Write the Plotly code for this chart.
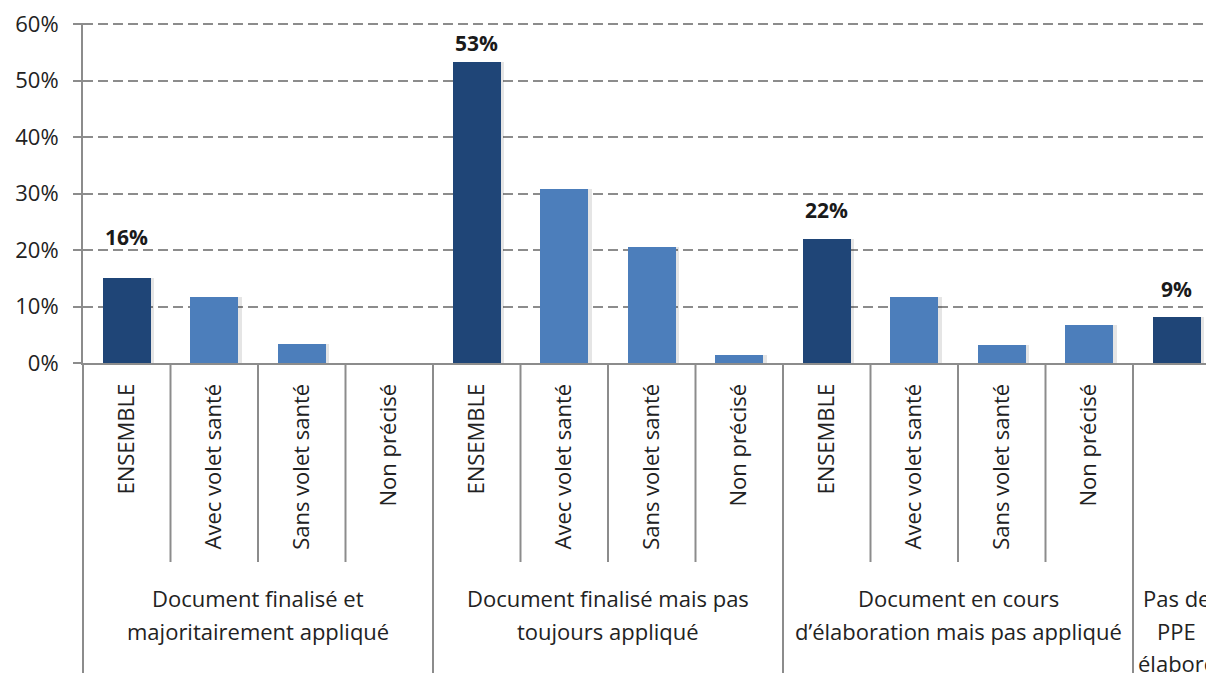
import plotly.graph_objects as go

# sub-categories (x axis, first level) and bar values in %
sub_labels = ["ENSEMBLE", "Avec volet santé", "Sans volet santé", "Non précisé",
              "ENSEMBLE", "Avec volet santé", "Sans volet santé", "Non précisé",
              "ENSEMBLE", "Avec volet santé", "Sans volet santé", "Non précisé",
              ""]
values = [15.0, 11.7, 3.3, 0.0,
          53.2, 30.8, 20.6, 1.5,
          22.0, 11.7, 3.2, 6.8,
          8.1]
is_total = [True, False, False, False,
            True, False, False, False,
            True, False, False, False,
            True]

# group labels (second level), with the number of sub-categories in each group
group_lines = [["Document finalisé et", "majoritairement appliqué"],
               ["Document finalisé mais pas", "toujours appliqué"],
               ["Document en cours", "d’élaboration mais pas appliqué"],
               ["Pas de", "PPE", "élaboré"]]
group_sizes = [4, 4, 4, 1]

y_ticks = [0, 10, 20, 30, 40, 50, 60]
y_tick_text = ["0%", "10%", "20%", "30%", "40%", "50%", "60%"]

# bold labels shown above the "ENSEMBLE" bars
value_labels = {0: "16%", 4: "53%", 8: "22%", 12: "9%"}
label_lift = {0: 41, 4: 19, 8: 29, 12: 28}

DARK = "#1f4577"
LIGHT = "#4c7ebb"
GREY = "#8c8c8c"
TEXT = "#222222"
FONT = "Open Sans"

x = list(range(len(values)))
colors = [DARK if t else LIGHT for t in is_total]
bar_w = 0.55

# page has an 8px body margin, so the figure is 8px smaller than the window
W, H = 1206, 665
xmin = -0.5
xmax = -0.5 + (W - 75) / 87.5


def to_paper(v):
    return (v - xmin) / (xmax - xmin)


fig = go.Figure()
# soft shadow behind the bars
fig.add_trace(go.Bar(x=x, y=values, width=bar_w, offset=-bar_w / 2 + 0.04,
                     marker=dict(color="rgba(0,0,0,0.10)", line=dict(width=0)),
                     hoverinfo="skip", showlegend=False))
fig.add_trace(go.Bar(x=x, y=values, width=bar_w, offset=-bar_w / 2,
                     marker=dict(color=colors, line=dict(width=0)),
                     showlegend=False))

shapes = []
annotations = []

# top gridline and its tick (plotly drops gridlines sitting on the range edge)
shapes.append(dict(type="line", xref="paper", yref="paper", x0=0, x1=1, y0=1, y1=1,
                   line=dict(color=GREY, width=2, dash="10px,5px")))
shapes.append(dict(type="line", xref="paper", yref="paper", x0=-8 / (W - 75), x1=0, y0=1, y1=1,
                   line=dict(color=GREY, width=2)))

# dividers between sub-categories (short) and between groups (full height)
start = 0
for lines, n in zip(group_lines, group_sizes):
    left = start - 0.5
    shapes.append(dict(type="line", xref="paper", yref="paper",
                       x0=to_paper(left), x1=to_paper(left), y0=0, y1=-1.0,
                       line=dict(color=GREY, width=2)))
    for k in range(1, n):
        b = start + k - 0.5
        shapes.append(dict(type="line", xref="paper", yref="paper",
                           x0=to_paper(b), x1=to_paper(b), y0=0, y1=-0.587,
                           line=dict(color=GREY, width=2)))
    center = start + (n - 1) / 2
    for i, line in enumerate(lines):
        annotations.append(dict(text=line, xref="paper", yref="paper",
                                x=to_paper(center), y=0, yshift=-(235 + 32.5 * i),
                                xanchor="center", yanchor="middle", showarrow=False,
                                font=dict(family=FONT, size=22, color=TEXT)))
    start += n

for i, txt in value_labels.items():
    annotations.append(dict(text="<b>" + txt + "</b>", x=x[i], y=values[i],
                            xref="x", yref="y", yshift=label_lift[i],
                            xanchor="center", yanchor="middle", showarrow=False,
                            font=dict(family=FONT, size=21, color="#1a1a1a")))

fig.update_layout(
    width=W, height=H,
    margin=dict(l=75, r=0, t=16, b=310),
    plot_bgcolor="white", paper_bgcolor="white",
    barmode="overlay", bargap=0,
    font=dict(family=FONT, size=22, color=TEXT),
    shapes=shapes, annotations=annotations,
)
fig.update_xaxes(range=[xmin, xmax], tickmode="array", tickvals=x, ticktext=sub_labels,
                 tickangle=-90, ticks="", showgrid=False, zeroline=False,
                 showline=True, linecolor=GREY, linewidth=2,
                 ticklabelstandoff=10, tickfont=dict(family=FONT, size=22, color=TEXT))
fig.update_yaxes(range=[0, 60], tickmode="array", tickvals=y_ticks, ticktext=y_tick_text,
                 showgrid=True, gridcolor=GREY, gridwidth=2, griddash="10px,5px",
                 zeroline=False, showline=True, linecolor=GREY, linewidth=2,
                 ticks="outside", ticklen=8, tickcolor=GREY, tickwidth=2,
                 ticklabeloverflow="allow",
                 ticklabelstandoff=10, tickfont=dict(family=FONT, size=22, color=TEXT))

fig.write_html("out.html")
